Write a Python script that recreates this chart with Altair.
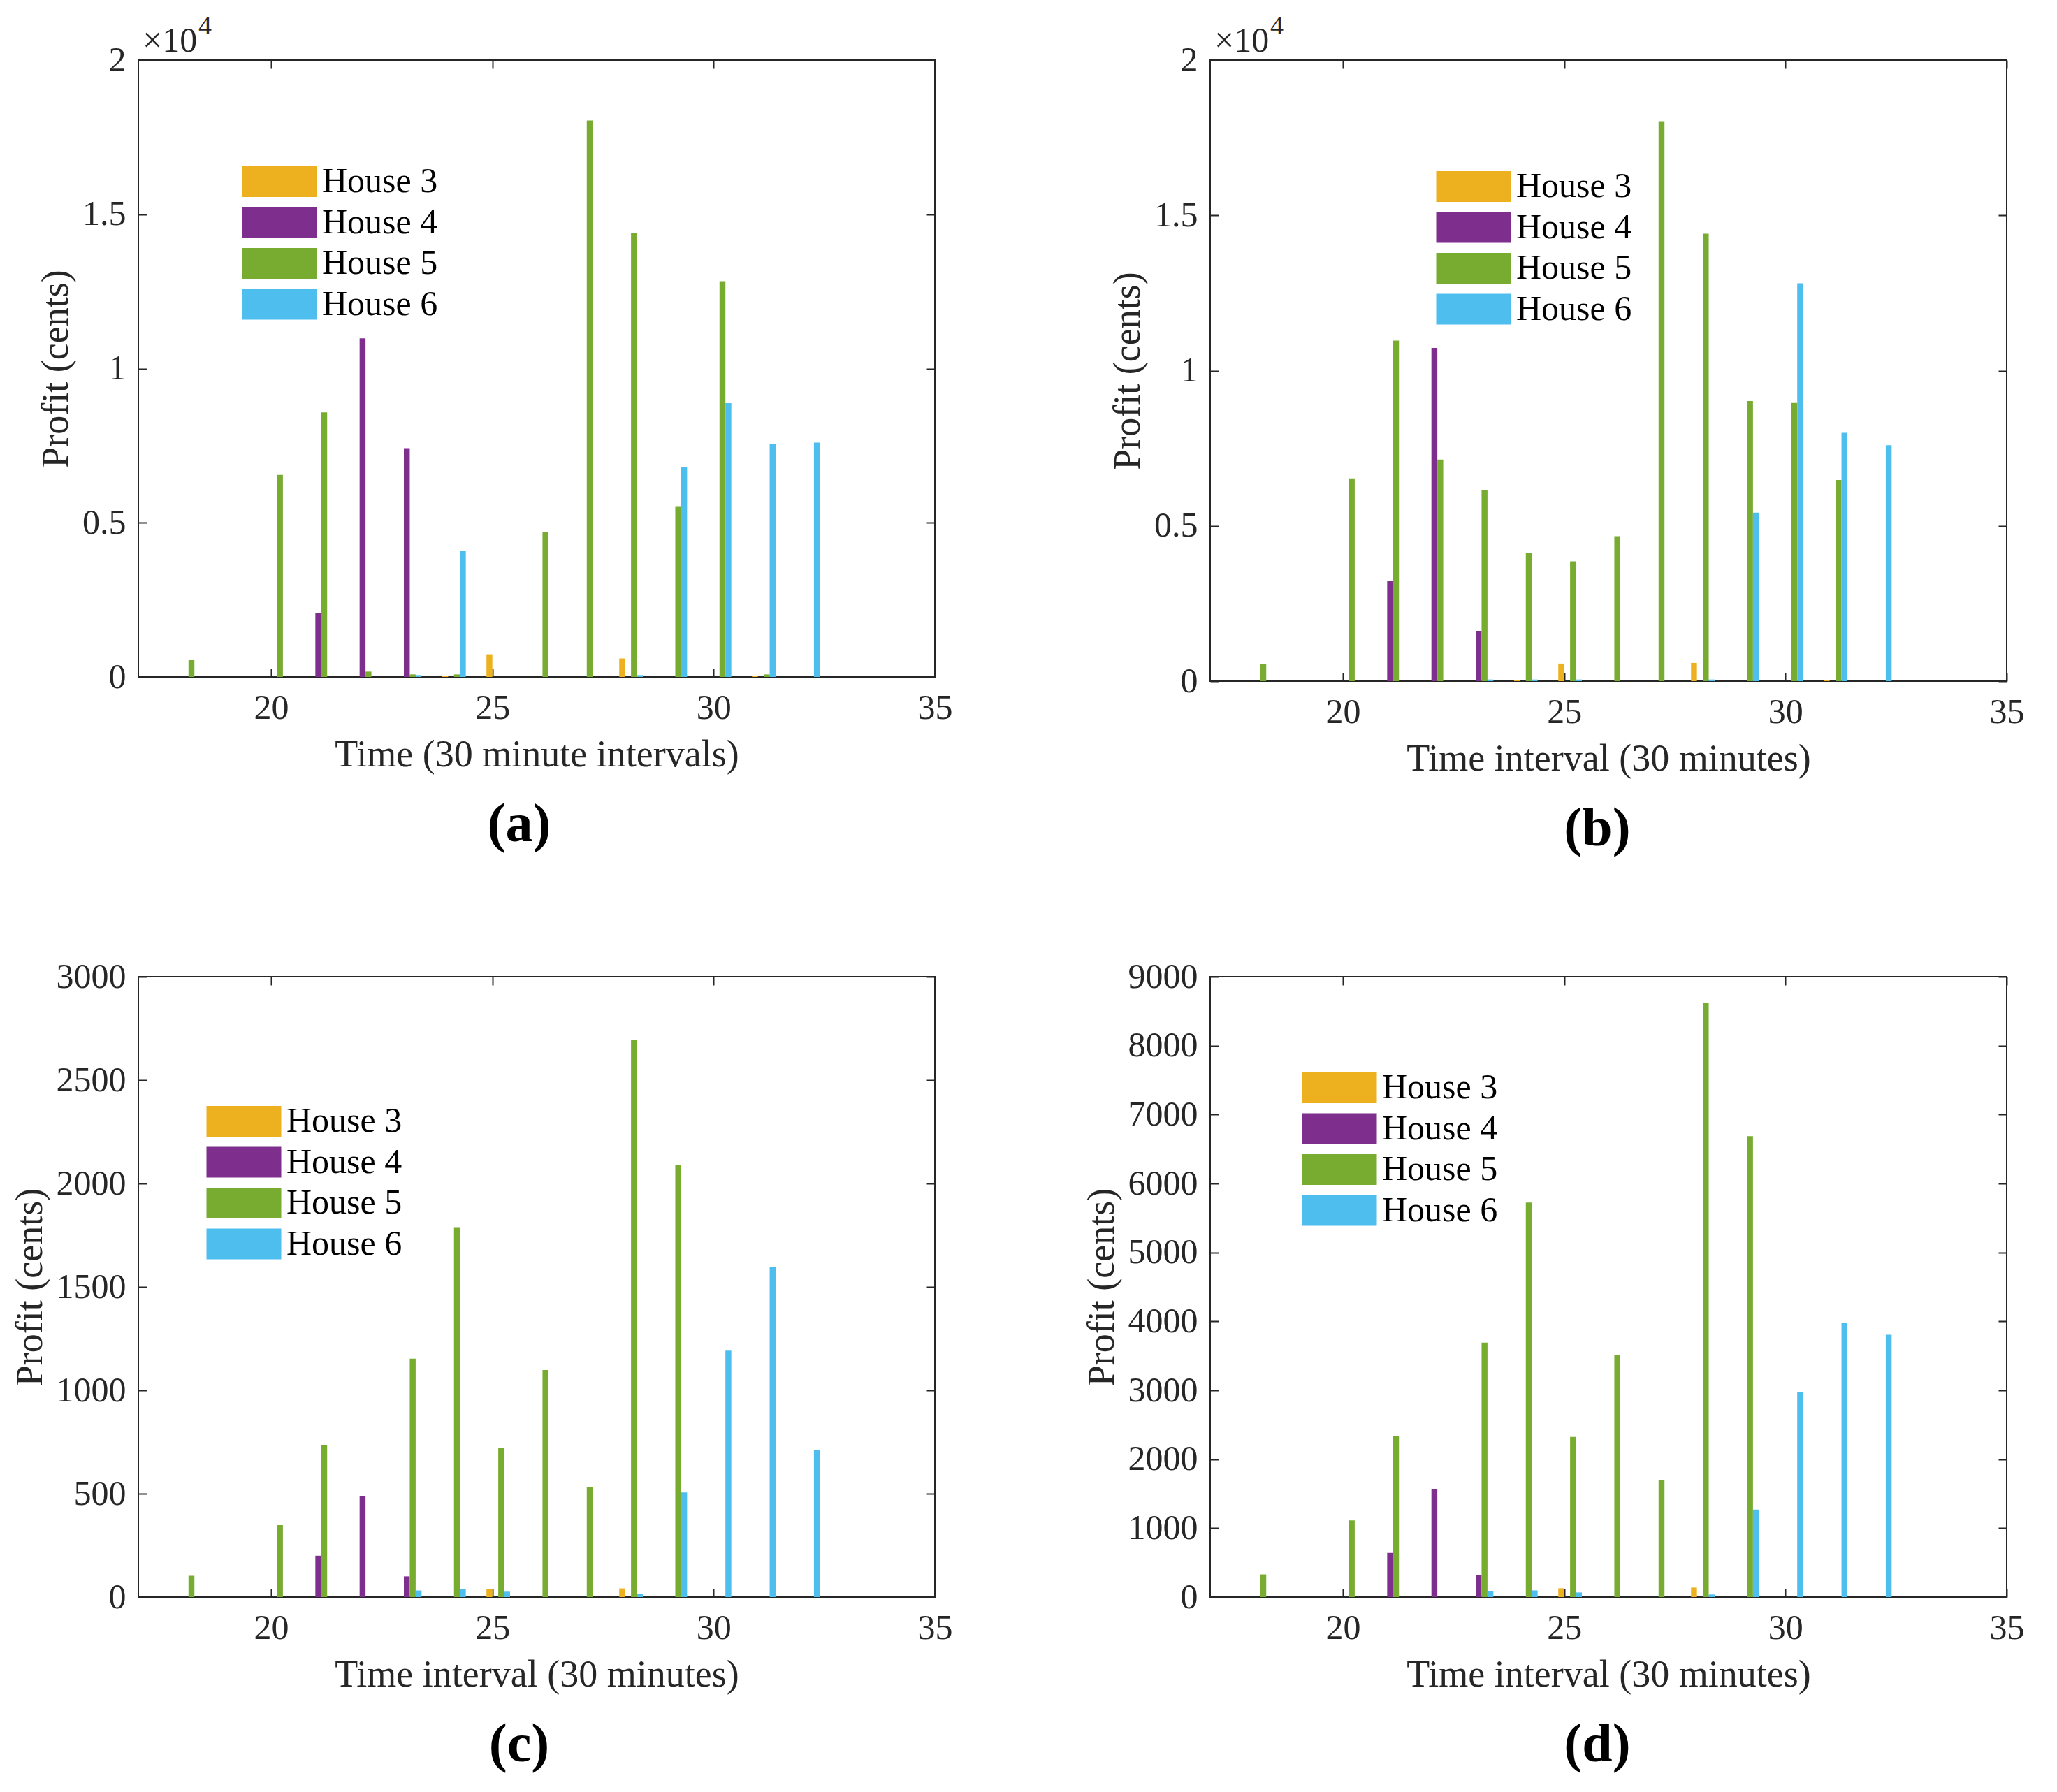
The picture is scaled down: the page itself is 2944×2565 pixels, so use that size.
import altair as alt
import pandas as pd

FONT = "Liberation Serif"
INK = "#262626"

intervals = list(range(18, 33))
houses = ["House 3", "House 4", "House 5", "House 6"]
house_index = [3, 4, 5, 6]
colors = ["#EDB120", "#7E2F8E", "#77AC30", "#4DBEEE"]

# panel (a)
a_h3 = [0, 0, 0, 0, 0, 0, 37, 735, 0, 0, 600, 0, 0, 37, 0]
a_h4 = [0, 0, 0, 2080, 10980, 7420, 0, 0, 0, 0, 0, 0, 0, 0, 0]
a_h5 = [555, 0, 6550, 8580, 173, 82, 82, 0, 4710, 18040, 14400, 5540, 12830, 82, 0]
a_h6 = [0, 0, 0, 0, 0, 60, 4100, 0, 0, 0, 60, 6800, 8880, 7560, 7600]
# panel (b)
b_h3 = [0, 0, 0, 0, 0, 0, 30, 565, 0, 0, 587, 0, 0, 30, 0]
b_h4 = [0, 0, 0, 3240, 10730, 1620, 0, 0, 0, 0, 0, 0, 0, 0, 0]
b_h5 = [543, 0, 6530, 10970, 7140, 6160, 4140, 3860, 4670, 18030, 14410, 9020, 8960, 6480, 0]
b_h6 = [0, 0, 0, 0, 0, 52, 52, 52, 0, 0, 52, 5430, 12810, 8000, 7600]
# panel (c)
c_h3 = [0, 0, 0, 0, 0, 0, 0, 39, 0, 0, 42, 0, 0, 0, 0]
c_h4 = [0, 0, 0, 200, 489, 100, 0, 0, 0, 0, 0, 0, 0, 0, 0]
c_h5 = [103, 0, 348, 733, 0, 1153, 1789, 722, 1098, 534, 2693, 2090, 0, 0, 0]
c_h6 = [0, 0, 0, 0, 0, 32, 39, 26, 0, 0, 16, 506, 1192, 1598, 713]
# panel (d)
d_h3 = [0, 0, 0, 0, 0, 0, 0, 128, 0, 0, 138, 0, 0, 0, 0]
d_h4 = [0, 0, 0, 641, 1568, 319, 0, 0, 0, 0, 0, 0, 0, 0, 0]
d_h5 = [329, 0, 1112, 2339, 0, 3691, 5724, 2323, 3517, 1700, 8618, 6686, 0, 0, 0]
d_h6 = [0, 0, 0, 0, 0, 87, 97, 67, 0, 0, 37, 1269, 2970, 3982, 3807]

x_ticks = [20, 25, 30, 35]
y_ticks_ab = [0, 5000, 10000, 15000, 20000]
y_ticks_c = [0, 500, 1000, 1500, 2000, 2500, 3000]
y_ticks_d = [0, 1000, 2000, 3000, 4000, 5000, 6000, 7000, 8000, 9000]

W = 1140
TICK = 12
SLOT = 0.8 / 6  # grouped bar slot for 6 houses (houses 1-2 are empty)

LEGEND_PATH = "M-2.432,-1L2.432,-1L2.432,1L-2.432,1Z"


def make_table(series):
    rows = []
    for name, idx, vals in zip(houses, house_index, series):
        for t, v in zip(intervals, vals):
            rows.append({"t": t, "house": name, "hidx": idx, "value": v})
    return pd.DataFrame(rows)


def panel(series, ymax, yticks, xtitle, height, lx, ly, caption, cap_dx, sci=False):
    df = make_table(series)
    y_axis = alt.Axis(
        values=yticks,
        format="d",
        title="Profit (cents)",
        grid=True,
        gridDash=[TICK, W - 2 * TICK, TICK],
        labelPadding=18,
        titlePadding=10,
        labelExpr="datum.value / 10000" if sci else "datum.label",
    )
    x_axis = alt.Axis(
        values=x_ticks,
        format="d",
        title=xtitle,
        grid=True,
        gridDash=[TICK, height - 2 * TICK, TICK],
        labelPadding=19,
        titlePadding=15,
    )
    bars = (
        alt.Chart(df)
        .transform_calculate(
            x0=f"datum.t + (datum.hidx - 3.5) * {SLOT} - {SLOT / 2}",
            x1=f"datum.t + (datum.hidx - 3.5) * {SLOT} + {SLOT / 2}",
        )
        .mark_bar(strokeWidth=0)
        .encode(
            x=alt.X("x0:Q", scale=alt.Scale(domain=[17, 35], nice=False, zero=False), axis=x_axis),
            x2="x1:Q",
            y=alt.Y("value:Q", scale=alt.Scale(domain=[0, ymax], nice=False), axis=y_axis),
            y2=alt.datum(0),
            color=alt.Color(
                "house:N",
                scale=alt.Scale(domain=houses, range=colors),
                legend=alt.Legend(
                    orient="none",
                    legendX=lx,
                    legendY=ly,
                    title=None,
                    symbolType=LEGEND_PATH,
                    symbolSize=1936,
                    symbolStrokeWidth=0,
                    symbolOpacity=1,
                    labelFont=FONT,
                    labelFontSize=50,
                    labelColor="black",
                    labelLimit=500,
                    labelOffset=36,
                    rowPadding=8.5,
                ),
            ),
        )
    )
    layers = [bars]
    if sci:
        base = alt.Chart(pd.DataFrame({"k": [0]}))
        times10 = base.mark_text(
            text="×10", align="left", baseline="alphabetic", dx=6, dy=-12,
            font=FONT, fontSize=50, color=INK,
        ).encode(x=alt.datum(17), y=alt.datum(ymax))
        power = base.mark_text(
            text="4", align="left", baseline="alphabetic", dx=86, dy=-37,
            font=FONT, fontSize=38, color=INK,
        ).encode(x=alt.datum(17), y=alt.datum(ymax))
        layers += [times10, power]
    return alt.layer(*layers).properties(
        width=W,
        height=height,
        title=alt.TitleParams(
            text=caption,
            orient="bottom",
            anchor="middle",
            font=FONT,
            fontSize=78,
            fontWeight="bold",
            color="black",
            offset=35,
            dx=cap_dx,
        ),
    )


pa = panel([a_h3, a_h4, a_h5, a_h6], 20000, y_ticks_ab, "Time (30 minute intervals)", 883, 177, 149, "(a)", -25, sci=True)
pb = panel([b_h3, b_h4, b_h5, b_h6], 20000, y_ticks_ab, "Time interval (30 minutes)", 889, 352, 156, "(b)", -16, sci=True)
pc = panel([c_h3, c_h4, c_h5, c_h6], 3000, y_ticks_c, "Time interval (30 minutes)", 888, 126, 182, "(c)", -25)
pd_ = panel([d_h3, d_h4, d_h5, d_h6], 9000, y_ticks_d, "Time interval (30 minutes)", 888, 160, 134, "(d)", -16)

chart = (
    alt.concat(pa, pb, pc, pd_, columns=2, spacing={"row": 145, "column": 185})
    .resolve_scale(color="independent")
    .resolve_legend(color="independent")
    .properties(padding={"left": 7, "top": 10, "right": 0, "bottom": 0}, background="white")
    .configure_view(stroke=INK, strokeWidth=2)
    .configure_axis(
        labelFont=FONT,
        titleFont=FONT,
        labelFontSize=50,
        titleFontSize=54,
        titleFontWeight="normal",
        labelColor=INK,
        titleColor=INK,
        domain=False,
        ticks=False,
        gridColor=INK,
        gridOpacity=1,
        gridWidth=2,
        labelFlush=False,
    )
)

chart.save("out.html", embed_options={"renderer": "svg", "actions": False})
